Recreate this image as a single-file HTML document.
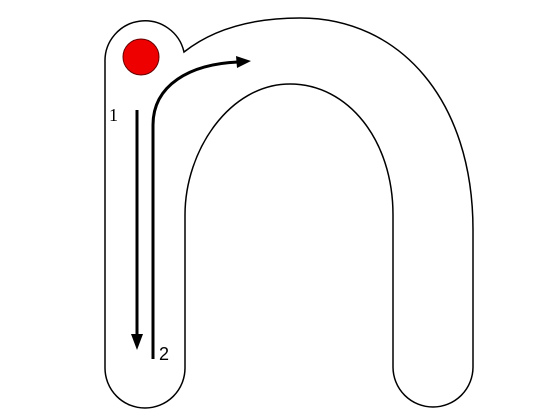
<!DOCTYPE html>
<html><head><meta charset="utf-8"><style>
html,body{margin:0;padding:0;background:#fff;}
svg{display:block;}
</style></head><body>
<svg width="560" height="420" viewBox="0 0 560 420">
<path d="M105,368 L105,62 A40,40 0 0 1 184,52 C212,30 250,18 300,18 C400,18 473,100 473,230 L473,367 A40,40 0 0 1 393,367 L393,215 C393,140 348,84 290,84 C230,84 185,150 185,215 L185,368 A40,40 0 0 1 105,368 Z" fill="#fff" stroke="#000" stroke-width="1.5"/>
<circle cx="141" cy="57" r="18" fill="#ee0000" stroke="#600" stroke-width="1"/>
<line x1="137" y1="110" x2="137" y2="335" stroke="#000" stroke-width="3"/>
<polygon points="131,334 143,334 137,350" fill="#000"/>
<path d="M153,359 L153,125 C153,85 190,64 238,62" fill="none" stroke="#000" stroke-width="3"/>
<polygon points="236,56 251,61 237,68" fill="#000"/>
<text x="109" y="121" font-family="Liberation Serif, serif" font-size="18">1</text>
<text x="159" y="360" font-family="Liberation Sans, sans-serif" font-size="18">2</text>
</svg>
</body></html>
